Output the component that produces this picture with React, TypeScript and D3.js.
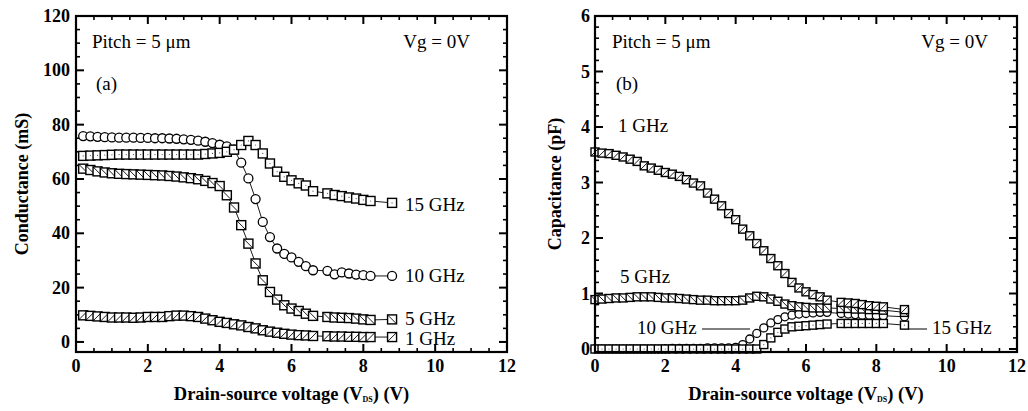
import * as d3 from "d3";

// drain-source voltage sample points (V)
const VDS_A = [
  0.2, 0.4, 0.6, 0.8, 1.0, 1.2, 1.4, 1.6, 1.8, 2.0, 2.2, 2.4, 2.6, 2.8, 3.0, 3.2, 3.4, 3.6, 3.8, 4.0,
  4.2, 4.4, 4.6, 4.8, 5.0, 5.2, 5.4, 5.6, 5.8, 6.0, 6.2, 6.4, 6.6, 7.0, 7.2, 7.4, 7.6, 7.8, 8.0, 8.2, 8.8,
];
const VDS_B = [
  0.0, 0.2, 0.4, 0.6, 0.8, 1.0, 1.2, 1.4, 1.6, 1.8, 2.0, 2.2, 2.4, 2.6, 2.8, 3.0, 3.2, 3.4, 3.6, 3.8, 4.0,
  4.2, 4.4, 4.6, 4.8, 5.0, 5.2, 5.4, 5.6, 5.8, 6.0, 6.2, 6.4, 6.6, 7.0, 7.2, 7.4, 7.6, 7.8, 8.0, 8.2, 8.8,
];

// (a) conductance, mS
const G_1GHZ = [
  9.8, 9.6, 9.4, 9.2, 9.0, 9.0, 9.0, 8.9, 9.0, 9.2, 9.2, 9.2, 9.5, 9.7, 9.7, 9.5, 9.2, 8.6, 8.0, 7.4,
  7.0, 6.5, 6.1, 5.5, 5.0, 4.3, 3.8, 3.4, 3.0, 2.7, 2.5, 2.4, 2.2, 2.1, 2.0, 2.0, 1.9, 1.9, 1.8, 1.8, 1.8,
];
const G_5GHZ = [
  63.8, 63.3, 62.8, 62.4, 62.1, 61.9, 61.8, 61.7, 61.6, 61.5, 61.4, 61.3, 61.1, 60.9, 60.6, 60.3, 59.9, 59.3, 58.5, 57.4,
  54.0, 49.5, 43.0, 36.2, 28.9, 22.7, 18.4, 15.6, 13.5, 12.3, 11.4, 10.4, 9.6, 9.2, 9.0, 8.9, 8.8, 8.6, 8.3, 8.1, 8.3,
];
const G_10GHZ = [
  75.8, 75.7, 75.5, 75.4, 75.3, 75.2, 75.2, 75.2, 75.1, 75.1, 75.0, 75.0, 74.9, 74.8, 74.6, 74.4, 74.1, 73.7, 73.2, 72.6,
  72.0, 70.8, 66.0, 60.2, 52.6, 44.2, 38.6, 34.4, 32.4, 31.1, 29.5, 27.9, 26.4, 26.2, 24.9, 25.6, 25.2, 24.8, 24.6, 24.3, 24.3,
];
const G_15GHZ = [
  68.5, 68.6, 68.7, 68.8, 68.9, 69.0, 69.0, 69.0, 69.0, 69.0, 69.0, 69.0, 69.0, 69.0, 69.0, 69.0, 69.0, 69.2, 69.4, 69.6,
  70.0, 70.8, 72.5, 74.0, 72.5, 69.4, 65.7, 62.7, 60.8, 59.5, 58.4, 57.6, 55.5, 54.7, 54.1, 53.7, 53.2, 52.8, 52.3, 51.9, 51.2,
];

// (b) capacitance, pF
const C_1GHZ = [
  3.55, 3.53, 3.52, 3.49, 3.46, 3.42, 3.38, 3.30, 3.26, 3.22, 3.18, 3.15, 3.11, 3.05, 2.99, 2.94, 2.81, 2.70, 2.58, 2.44, 2.33,
  2.16, 2.04, 1.90, 1.77, 1.63, 1.50, 1.36, 1.20, 1.10, 1.03, 0.98, 0.94, 0.88, 0.84, 0.83, 0.82, 0.80, 0.78, 0.77, 0.76, 0.71,
];
const C_5GHZ = [
  0.89, 0.90, 0.91, 0.92, 0.92, 0.93, 0.94, 0.94, 0.94, 0.93, 0.92, 0.92, 0.91, 0.90, 0.89, 0.88, 0.88, 0.87, 0.87, 0.87, 0.87,
  0.88, 0.92, 0.95, 0.94, 0.90, 0.86, 0.81, 0.78, 0.76, 0.75, 0.74, 0.74, 0.74, 0.73, 0.73, 0.72, 0.72, 0.71, 0.71, 0.70, 0.66,
];
const C_10GHZ = [
  0.0, 0.0, 0.0, 0.0, 0.0, 0.0, 0.0, 0.0, 0.0, 0.0, 0.0, 0.01, 0.01, 0.01, 0.01, 0.01, 0.02, 0.02, 0.02, 0.02, 0.03,
  0.08, 0.18, 0.28, 0.38, 0.47, 0.53, 0.58, 0.61, 0.63, 0.64, 0.65, 0.66, 0.66, 0.64, 0.63, 0.62, 0.61, 0.61, 0.60, 0.60, 0.58,
];
const C_15GHZ = [
  0.0, 0.0, 0.0, 0.0, 0.0, 0.0, 0.0, 0.0, 0.0, 0.0, 0.0, 0.0, 0.0, 0.0, 0.0, 0.0, 0.0, 0.0, 0.0, 0.0, 0.0,
  0.0, 0.0, 0.0, 0.08, 0.20, 0.30, 0.36, 0.40, 0.41, 0.42, 0.43, 0.44, 0.45, 0.46, 0.46, 0.46, 0.46, 0.46, 0.46, 0.46, 0.43,
];

const X_TICKS = [0, 2, 4, 6, 8, 10, 12];
const G_TICKS = [0, 20, 40, 60, 80, 100, 120];
const C_TICKS = [0, 1, 2, 3, 4, 5, 6];

const W = 1028;
const H = 411;
const FONT = "'Liberation Serif', 'Times New Roman', serif";

type Marker = "circle" | "square" | "slash" | "backslash";

type Series = { xs: number[]; ys: number[]; marker: Marker };

type Label = { text: string; x: number; y: number; anchor?: string; lead?: [number, number, number] };

type PanelProps = {
  left: number;
  right: number;
  top: number;
  bottom: number;
  yDomain: [number, number];
  yTicks: number[];
  yMinor: number;
  yTitle: string;
  yTitleX: number;
  labelGap: number;
  markerSize: number;
  series: Series[];
  labels: Label[];
};

function MarkerShape({ type, x, y, s }: { type: Marker; x: number; y: number; s: number }) {
  const h = s / 2;
  if (type === "circle") {
    return <circle cx={x} cy={y} r={h} fill="#fff" stroke="#000" strokeWidth={1.3} />;
  }
  return (
    <g>
      <rect x={x - h} y={y - h} width={s} height={s} fill="#fff" stroke="#000" strokeWidth={1.4} />
      {type === "slash" && <line x1={x - h} y1={y + h} x2={x + h} y2={y - h} stroke="#000" strokeWidth={0.9} />}
      {type === "backslash" && <line x1={x - h} y1={y - h} x2={x + h} y2={y + h} stroke="#000" strokeWidth={0.9} />}
      {type === "square" && <circle cx={x} cy={y} r={0.6} fill="#555" />}
    </g>
  );
}

function Panel(p: PanelProps) {
  const x = d3.scaleLinear().domain([0, 12]).range([p.left, p.right]);
  const y = d3.scaleLinear().domain(p.yDomain).range([p.bottom, p.top]);
  const xMinor = d3.range(0, 12.001, 0.5).filter((v) => !X_TICKS.includes(v));
  const yMax = p.yTicks[p.yTicks.length - 1];
  const yMinor = d3
    .range(0, yMax + 1e-6, p.yMinor)
    .filter((v) => !p.yTicks.some((t) => Math.abs(t - v) < 1e-6));
  const line = d3
    .line<[number, number]>()
    .x((d) => x(d[0]))
    .y((d) => y(d[1]));
  const major = 8;
  const minor = 4;

  return (
    <g fontFamily={FONT}>
      {/* ticks on all four sides, pointing inward */}
      {X_TICKS.map((t) => (
        <g key={"xt" + t}>
          <line x1={x(t)} x2={x(t)} y1={p.bottom} y2={p.bottom - major} stroke="#000" strokeWidth={2} />
          <line x1={x(t)} x2={x(t)} y1={p.top} y2={p.top + major} stroke="#000" strokeWidth={2} />
        </g>
      ))}
      {xMinor.map((t) => (
        <g key={"xm" + t}>
          <line x1={x(t)} x2={x(t)} y1={p.bottom} y2={p.bottom - minor} stroke="#000" strokeWidth={1.6} />
          <line x1={x(t)} x2={x(t)} y1={p.top} y2={p.top + minor} stroke="#000" strokeWidth={1.6} />
        </g>
      ))}
      {p.yTicks.map((t) => (
        <g key={"yt" + t}>
          <line x1={p.left} x2={p.left + major} y1={y(t)} y2={y(t)} stroke="#000" strokeWidth={2} />
          <line x1={p.right} x2={p.right - major} y1={y(t)} y2={y(t)} stroke="#000" strokeWidth={2} />
        </g>
      ))}
      {yMinor.map((t) => (
        <g key={"ym" + t}>
          <line x1={p.left} x2={p.left + minor} y1={y(t)} y2={y(t)} stroke="#000" strokeWidth={1.6} />
          <line x1={p.right} x2={p.right - minor} y1={y(t)} y2={y(t)} stroke="#000" strokeWidth={1.6} />
        </g>
      ))}

      {/* data */}
      {p.series.map((s, i) => {
        const pts = s.xs.map((v, j) => [v, s.ys[j]] as [number, number]);
        return (
          <g key={"s" + i}>
            <path d={line(pts) ?? ""} fill="none" stroke="#000" strokeWidth={0.9} />
            {pts.map((d, j) => (
              <MarkerShape key={j} type={s.marker} x={x(d[0])} y={y(d[1])} s={p.markerSize} />
            ))}
          </g>
        );
      })}

      <rect
        x={p.left}
        y={p.top}
        width={p.right - p.left}
        height={p.bottom - p.top}
        fill="none"
        stroke="#000"
        strokeWidth={2.2}
      />

      {/* tick labels */}
      {X_TICKS.map((t) => (
        <text key={"xl" + t} x={x(t)} y={372} textAnchor="middle" fontSize={18} fontWeight="bold">
          {t}
        </text>
      ))}
      {p.yTicks.map((t) => (
        <text
          key={"yl" + t}
          x={p.left - p.labelGap}
          y={y(t)}
          dy="0.34em"
          textAnchor="end"
          fontSize={18}
          fontWeight="bold"
        >
          {t}
        </text>
      ))}

      {/* axis titles */}
      <text x={(p.left + p.right) / 2} y={400} textAnchor="middle" fontSize={18.5} fontWeight="bold">
        Drain-source voltage (V
        <tspan fontSize={8} dy={2}>
          DS
        </tspan>
        <tspan dy={-2}>) (V)</tspan>
      </text>
      <text
        transform={`translate(${p.yTitleX}, ${(p.top + p.bottom) / 2}) rotate(-90)`}
        textAnchor="middle"
        fontSize={18}
        fontWeight="bold"
      >
        {p.yTitle}
      </text>

      {/* annotations */}
      {p.labels.map((l, i) => (
        <g key={"lb" + i}>
          <text x={l.x} y={l.y} textAnchor={l.anchor ?? "start"} fontSize={19}>
            {l.text}
          </text>
          {l.lead && <line x1={l.lead[0]} x2={l.lead[1]} y1={l.lead[2]} y2={l.lead[2]} stroke="#000" strokeWidth={1} />}
        </g>
      ))}
    </g>
  );
}

export default function App() {
  return (
    <svg
      width={W}
      height={H}
      viewBox={`0 0 ${W} ${H}`}
      style={{ position: "absolute", left: 0, top: 0, background: "#fff" }}
    >
      <rect width={W} height={H} fill="#fff" />
      <Panel
        left={76}
        right={507}
        top={16}
        bottom={352}
        yDomain={[-3.7, 120]}
        yTicks={G_TICKS}
        yMinor={5}
        yTitle="Conductance (mS)"
        yTitleX={28}
        labelGap={6}
        markerSize={9}
        series={[
          { xs: VDS_A, ys: G_1GHZ, marker: "slash" },
          { xs: VDS_A, ys: G_5GHZ, marker: "backslash" },
          { xs: VDS_A, ys: G_10GHZ, marker: "circle" },
          { xs: VDS_A, ys: G_15GHZ, marker: "square" },
        ]}
        labels={[
          { text: "Pitch = 5 μm", x: 92, y: 48 },
          { text: "Vg = 0V", x: 470, y: 48, anchor: "end" },
          { text: "(a)", x: 96, y: 90 },
          { text: "15 GHz", x: 405, y: 211 },
          { text: "10 GHz", x: 405, y: 282 },
          { text: "5 GHz", x: 405, y: 325 },
          { text: "1 GHz", x: 405, y: 345 },
        ]}
      />
      <Panel
        left={595}
        right={1017}
        top={16}
        bottom={352}
        yDomain={[-0.054, 6]}
        yTicks={C_TICKS}
        yMinor={0.2}
        yTitle="Capacitance (pF)"
        yTitleX={561}
        labelGap={5}
        markerSize={8}
        series={[
          { xs: VDS_B, ys: C_10GHZ, marker: "circle" },
          { xs: VDS_B, ys: C_15GHZ, marker: "square" },
          { xs: VDS_B, ys: C_5GHZ, marker: "backslash" },
          { xs: VDS_B, ys: C_1GHZ, marker: "slash" },
        ]}
        labels={[
          { text: "Pitch = 5 μm", x: 612, y: 48 },
          { text: "Vg = 0V", x: 988, y: 48, anchor: "end" },
          { text: "(b)", x: 616, y: 90 },
          { text: "1 GHz", x: 618, y: 132 },
          { text: "5 GHz", x: 620, y: 283 },
          { text: "10 GHz", x: 637, y: 334, lead: [702, 750, 329] },
          { text: "15 GHz", x: 932, y: 334, lead: [908, 927, 329] },
        ]}
      />
    </svg>
  );
}
